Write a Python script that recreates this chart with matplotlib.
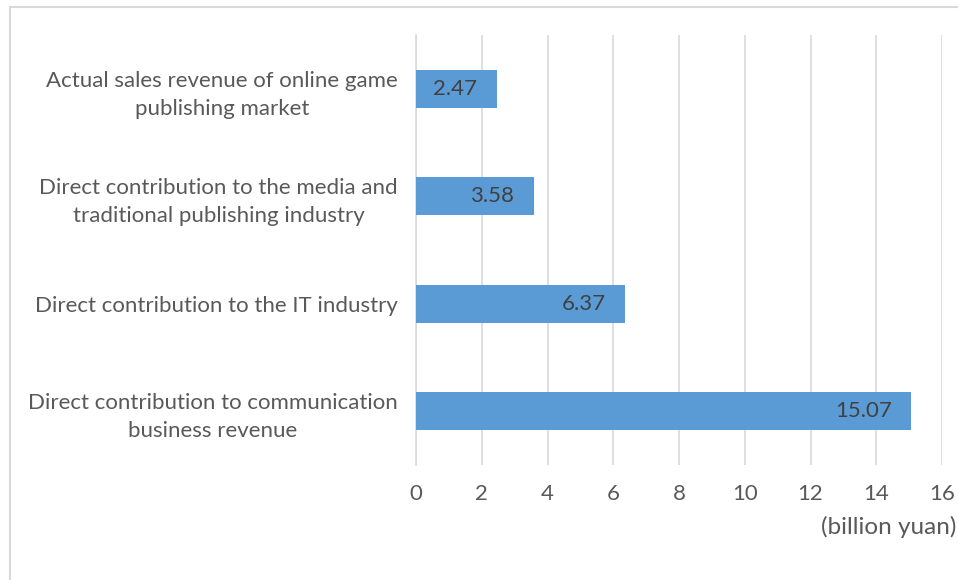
import matplotlib.pyplot as plt
from matplotlib.lines import Line2D

categories = [
    "Actual sales revenue of online game\npublishing market",
    "Direct contribution to the media and\ntraditional publishing industry",
    "Direct contribution to the IT industry",
    "Direct contribution to communication\nbusiness revenue",
]
values = [2.47, 3.58, 6.37, 15.07]
xticks = [0, 2, 4, 6, 8, 10, 12, 14, 16]
unit_label = "(billion yuan)"

bar_color = "#5b9bd5"
grid_color = "#d9d9d9"
text_color = "#595959"

plt.rcParams['font.family'] = ['Lato', 'DejaVu Sans']

W, H = 958, 580
fig = plt.figure(figsize=(W / 100, H / 100), dpi=100)
ax = fig.add_axes([416 / W, 1 - 465 / H, (942 - 416) / W, (465 - 35) / H])

ypos = list(range(len(categories)))
ax.barh(ypos, values, height=0.355, color=bar_color, zorder=3)
ax.set_ylim(len(categories) - 0.5, -0.5)
ax.set_xlim(0, 16)
ax.set_xticks(xticks)
ax.set_xticklabels([str(t) for t in xticks], fontsize=16, color=text_color)
ax.set_yticks(ypos)
ax.set_yticklabels(categories, fontsize=16, color=text_color,
                   multialignment='center', linespacing=1.5)
ax.tick_params(axis='both', length=0)
ax.tick_params(axis='x', pad=14)
ax.tick_params(axis='y', pad=13)
ax.grid(axis='x', color=grid_color, linewidth=1.2, zorder=0)
for side in ['top', 'right', 'bottom']:
    ax.spines[side].set_visible(False)
ax.spines['left'].set_color(grid_color)
ax.spines['left'].set_linewidth(1.2)

# value labels sit inside the bar ends
for y, v in zip(ypos, values):
    ax.text(v - 0.6, y, "{:.2f}".format(v), ha='right', va='center',
            fontsize=16, color="#404040", zorder=4)

fig.text(956 / W, 1 - 527 / H, unit_label, ha='right', va='center',
         fontsize=17.5, color=text_color)

# outer chart frame
fig.add_artist(Line2D([10 / W, 1], [1 - 7 / H, 1 - 7 / H], color=grid_color,
                      linewidth=1.5, transform=fig.transFigure))
fig.add_artist(Line2D([10 / W, 10 / W], [0, 1 - 7 / H], color=grid_color,
                      linewidth=1.5, transform=fig.transFigure))

fig.savefig("out.png", dpi=100, facecolor='white')
